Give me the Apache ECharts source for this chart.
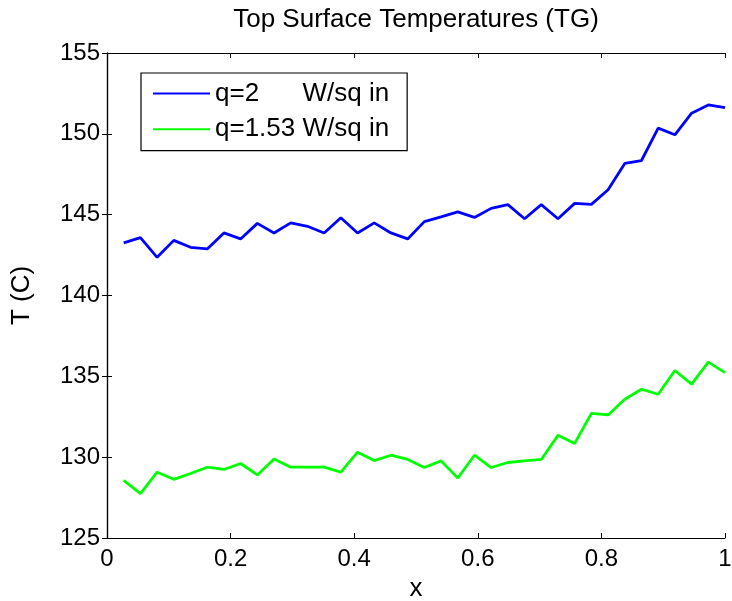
<!DOCTYPE html>
<html>
<head>
<meta charset="utf-8">
<script src="https://cdn.jsdelivr.net/npm/echarts@6/dist/echarts.min.js"></script>
<style>
  html, body { margin: 0; padding: 0; background: #fff; }
  #chart { width: 732px; height: 601px; }
</style>
</head>
<body>
<div id="chart"></div>
<script>
// Position along the surface: 37 evenly spaced stations, k/37
const stationCount = 37;
const xPositions = Array.from({ length: stationCount }, (_, k) => (k + 1) / stationCount);

// Top surface temperature (C) for the two heat-flux cases
const tempQ2 = [
  143.25, 143.58, 142.36, 143.41, 142.98, 142.88, 143.87, 143.50, 144.46, 143.87,
  144.49, 144.28, 143.87, 144.81, 143.87, 144.49, 143.87, 143.50, 144.57, 144.86,
  145.17, 144.83, 145.39, 145.62, 144.75, 145.62, 144.75, 145.70, 145.64, 146.54,
  148.17, 148.35, 150.35, 149.94, 151.28, 151.79, 151.62
];
const tempQ153 = [
  128.57, 127.74, 129.07, 128.63, 128.99, 129.38, 129.24, 129.61, 128.90, 129.88,
  129.38, 129.38, 129.38, 129.07, 130.31, 129.79, 130.12, 129.86, 129.36, 129.77,
  128.71, 130.12, 129.36, 129.67, 129.77, 129.86, 131.35, 130.85, 132.71, 132.61,
  133.58, 134.20, 133.89, 135.36, 134.52, 135.88, 135.23
];

const seriesNames = ['q=2      W/sq in', 'q=1.53 W/sq in'];
const seriesColors = ['#0000ff', '#00ff00'];

const FONT = '"Liberation Sans", Arial, Helvetica, sans-serif';

function pairs(xs, ys) {
  return xs.map((x, i) => [x, ys[i]]);
}

const chart = echarts.init(document.getElementById('chart'), null, { renderer: 'canvas' });

const axisLine = { show: true, lineStyle: { color: '#000', width: 1.2 } };
const axisTick = { show: true, inside: true, length: 5, lineStyle: { color: '#000', width: 1 } };

chart.setOption({
  animation: false,
  backgroundColor: '#fff',
  grid: {
    left: 107, top: 53, right: 7, bottom: 63,
    containLabel: false, outerBoundsMode: 'none'
  },
  xAxis: [
    {
      type: 'value', min: 0, max: 1, interval: 0.2, position: 'bottom',
      axisLine, axisTick, splitLine: { show: false },
      axisLabel: { color: '#000', fontFamily: FONT, fontSize: 24, margin: 9 },
      name: 'x', nameLocation: 'middle', nameGap: 38,
      nameTextStyle: { color: '#000', fontFamily: FONT, fontSize: 26 }
    },
    {
      type: 'value', min: 0, max: 1, interval: 0.2, position: 'top',
      axisLine, axisTick, splitLine: { show: false }, axisLabel: { show: false },
      name: 'Top Surface Temperatures (TG)', nameLocation: 'middle', nameGap: 20,
      nameTextStyle: { color: '#000', fontFamily: FONT, fontSize: 26 }
    }
  ],
  yAxis: [
    {
      type: 'value', min: 125, max: 155, interval: 5, position: 'left',
      axisLine, axisTick, splitLine: { show: false },
      axisLabel: { color: '#000', fontFamily: FONT, fontSize: 24, margin: 7 },
      name: 'T (C)', nameLocation: 'middle', nameGap: 72, nameRotate: 90,
      nameTextStyle: { color: '#000', fontFamily: FONT, fontSize: 26 }
    },
    {
      type: 'value', min: 125, max: 155, interval: 5, position: 'right',
      axisLine, axisTick, splitLine: { show: false }, axisLabel: { show: false }
    }
  ],
  legend: {
    orient: 'vertical',
    left: 141, top: 73,
    padding: [6, 18, 7, 11],
    itemWidth: 57, itemHeight: 36, itemGap: 7,
    itemStyle: { opacity: 0 },
    backgroundColor: '#fff',
    borderColor: '#000', borderWidth: 1.2,
    textStyle: { color: '#000', fontFamily: FONT, fontSize: 26 },
    data: seriesNames
  },
  series: [
    {
      name: seriesNames[0], type: 'line', data: pairs(xPositions, tempQ2),
      symbol: 'none', color: seriesColors[0],
      lineStyle: { color: seriesColors[0], width: 2.8 }
    },
    {
      name: seriesNames[1], type: 'line', data: pairs(xPositions, tempQ153),
      symbol: 'none', color: seriesColors[1],
      lineStyle: { color: seriesColors[1], width: 2.8 }
    }
  ]
});
</script>
</body>
</html>
